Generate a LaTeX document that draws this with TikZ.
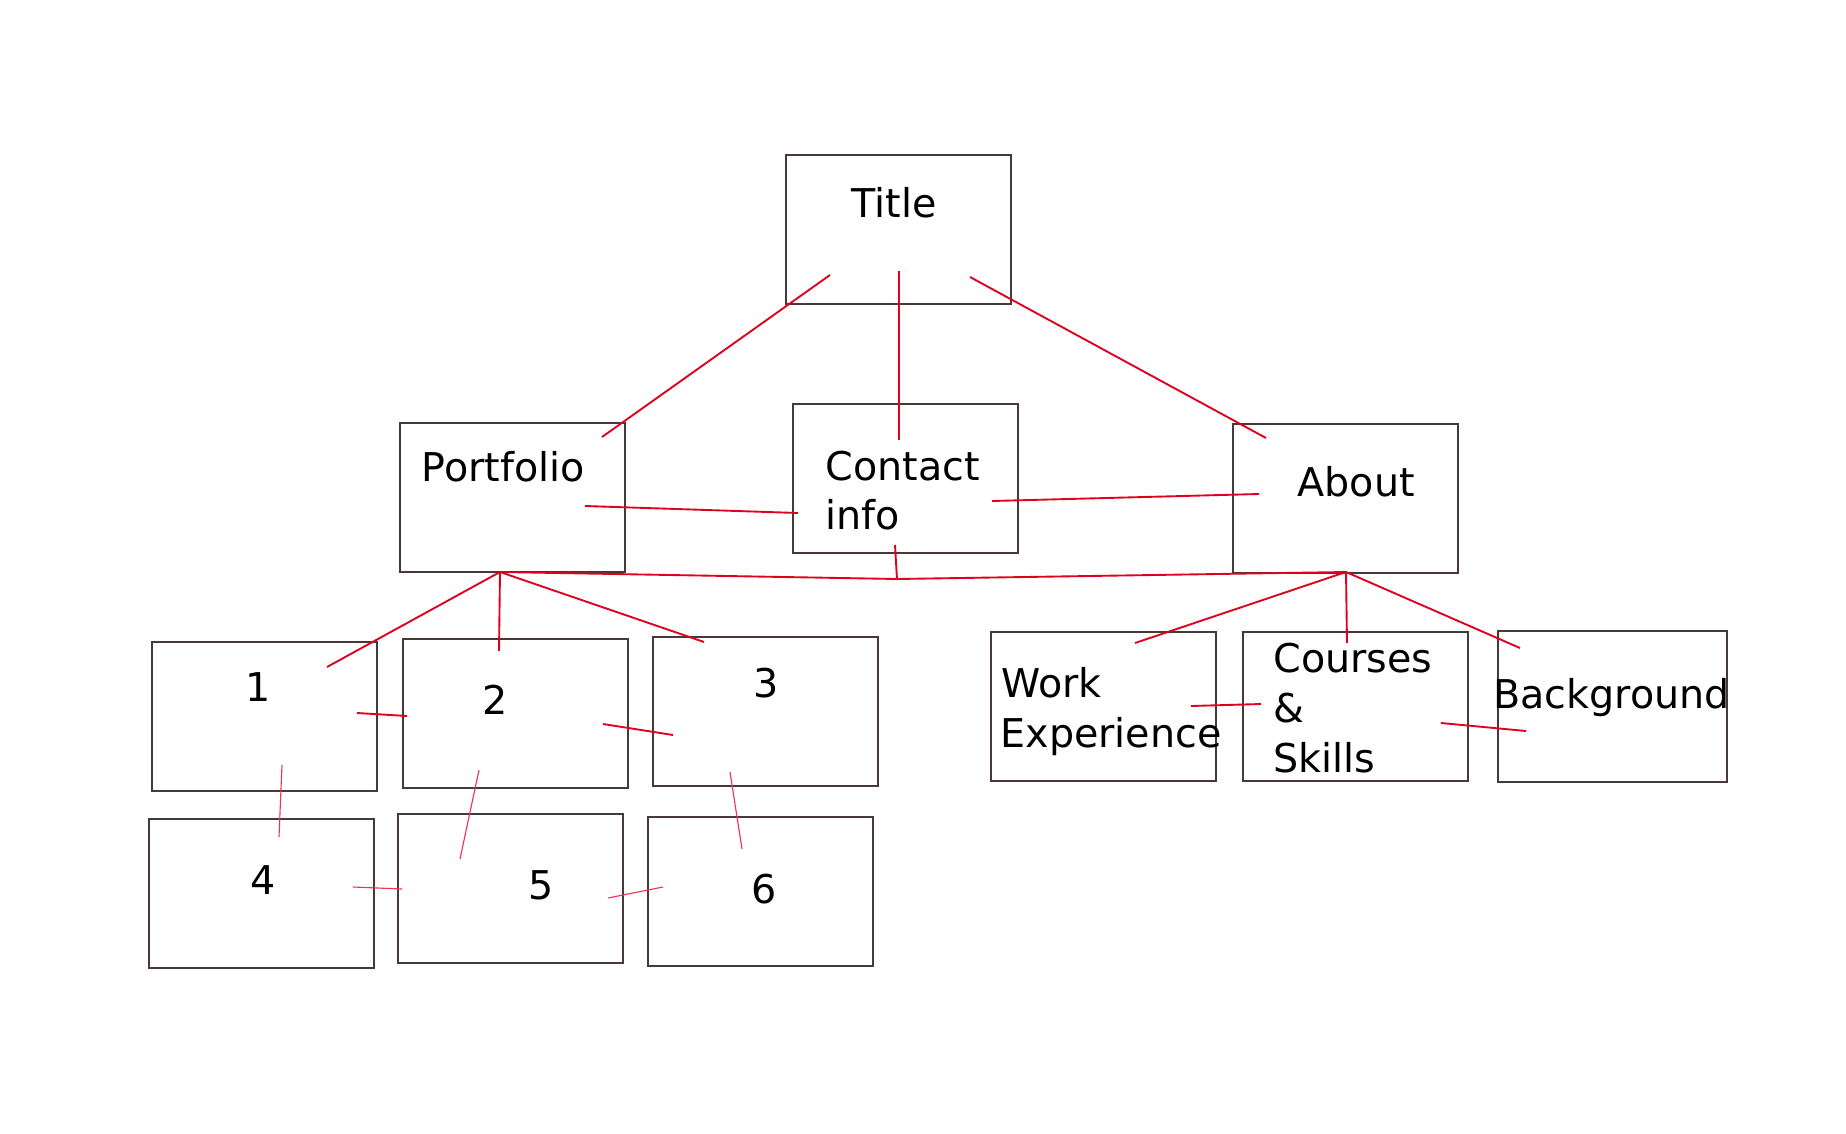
\documentclass[tikz,border=0pt]{standalone}
\usepackage{fontspec}
\setmainfont{DejaVu Sans}
\definecolor{boxc}{RGB}{72,56,56}
\definecolor{linec}{RGB}{222,0,30}
\definecolor{thinc}{RGB}{242,50,85}
\begin{document}
\begin{tikzpicture}[x=0.4pt,y=-0.4pt,
  box/.style={draw=boxc,line width=0.8pt,rectangle,inner sep=0pt,anchor=north west,
    minimum width=90pt,minimum height=59.6pt},
  txt/.style={inner sep=0pt,font=\fontsize{15.85pt}{19pt}\selectfont,text=black},
  lnk/.style={draw=linec,line width=0.75pt},
  thin/.style={draw=thinc,line width=0.45pt}]
\useasboundingbox[fill=white] (0,0) rectangle (1846,1133);
% boxes
\node[box] (title) at (785,154) {};
\node[box] (port) at (399,422) {};
\node[box] (cont) at (792,403) {};
\node[box] (about) at (1232,423) {};
\node[box] (b1) at (151,641) {};
\node[box] (b2) at (402,638) {};
\node[box] (b3) at (652,636) {};
\node[box] (b4) at (148,818) {};
\node[box] (b5) at (397,813) {};
\node[box] (b6) at (647,816) {};
\node[box] (work) at (990,631) {};
\node[box] (cour) at (1242,631) {};
\node[box,minimum width=91.6pt,minimum height=60.4pt] (back) at (1497,630) {};
% texts
\node[txt,anchor=base west] (title-t) at (851,217) {Title};
\node[txt,anchor=base west] (port-t) at (421,481) {Portfolio};
\node[txt,anchor=base west] (cont-t1) at (825,480) {Contact};
\node[txt,anchor=base west] (cont-t2) at (825,529) {info};
\node[txt,anchor=base west] (about-t) at (1297,496) {About};
\node[txt,anchor=base] (b1-t) at (258,701) {1};
\node[txt,anchor=base] (b2-t) at (495,714) {2};
\node[txt,anchor=base] (b3-t) at (766,697) {3};
\node[txt,anchor=base] (b4-t) at (263,894) {4};
\node[txt,anchor=base] (b5-t) at (541,899) {5};
\node[txt,anchor=base] (b6-t) at (764,903) {6};
\node[txt,anchor=base west] (work-t1) at (1001,697) {Work};
\node[txt,anchor=base west] (work-t2) at (1000,747) {Experience};
\node[txt,anchor=base west] (cour-t1) at (1273,672) {Courses};
\node[txt,anchor=base west] (cour-t2) at (1273,722) {\&};
\node[txt,anchor=base west] (cour-t3) at (1273,772) {Skills};
\node[txt,anchor=base west] (back-t) at (1493,708) {Background};
% connector end points
\coordinate (ti-p) at (830,275);
\coordinate (ti-c) at (899,271);
\coordinate (ti-a) at (970,277);
\coordinate (po-t) at (602,437);
\coordinate (co-t) at (899,440);
\coordinate (ab-t) at (1266,438);
\coordinate (po-c) at (585,506);
\coordinate (co-p) at (798,513);
\coordinate (co-a) at (992,501);
\coordinate (ab-c) at (1259,494);
\coordinate (po-hub) at (500,572);
\coordinate (ab-hub) at (1346,572);
\coordinate (junc) at (897,579);
\coordinate (co-b) at (895,545);
\coordinate (b1-t0) at (327,667);
\coordinate (b2-t0) at (499,651);
\coordinate (b3-t0) at (704,642);
\coordinate (b1-r) at (357,713);
\coordinate (b2-l) at (407,716);
\coordinate (b2-r) at (603,724);
\coordinate (b3-l) at (673,735);
\coordinate (wo-t) at (1135,643);
\coordinate (cs-t) at (1347,643);
\coordinate (bg-t) at (1520,648);
\coordinate (wo-r) at (1191,706);
\coordinate (cs-l) at (1261,704);
\coordinate (cs-r) at (1441,723);
\coordinate (bg-l) at (1526,731);
\coordinate (b1-b) at (282,765);
\coordinate (b4-t0) at (279,837);
\coordinate (b2-b) at (479,770);
\coordinate (b5-t0) at (460,859);
\coordinate (b3-b) at (730,772);
\coordinate (b6-t0) at (742,849);
\coordinate (b4-r) at (353,887);
\coordinate (b5-l) at (402,889);
\coordinate (b5-r) at (608,898);
\coordinate (b6-l) at (663,887);
% connectors
\draw[lnk] (ti-p) -- (po-t);
\draw[lnk] (ti-c) -- (co-t);
\draw[lnk] (ti-a) -- (ab-t);
\draw[lnk] (po-c) -- (co-p);
\draw[lnk] (co-a) -- (ab-c);
\draw[lnk] (po-hub) -- (junc) -- (ab-hub);
\draw[lnk] (co-b) -- (junc);
\draw[lnk] (po-hub) -- (b1-t0);
\draw[lnk] (po-hub) -- (b2-t0);
\draw[lnk] (po-hub) -- (b3-t0);
\draw[lnk] (b1-r) -- (b2-l);
\draw[lnk] (b2-r) -- (b3-l);
\draw[lnk] (ab-hub) -- (wo-t);
\draw[lnk] (ab-hub) -- (cs-t);
\draw[lnk] (ab-hub) -- (bg-t);
\draw[lnk] (wo-r) -- (cs-l);
\draw[lnk] (cs-r) -- (bg-l);
\draw[thin] (b1-b) -- (b4-t0);
\draw[thin] (b2-b) -- (b5-t0);
\draw[thin] (b3-b) -- (b6-t0);
\draw[thin] (b4-r) -- (b5-l);
\draw[thin] (b5-r) -- (b6-l);
\end{tikzpicture}
\end{document}
